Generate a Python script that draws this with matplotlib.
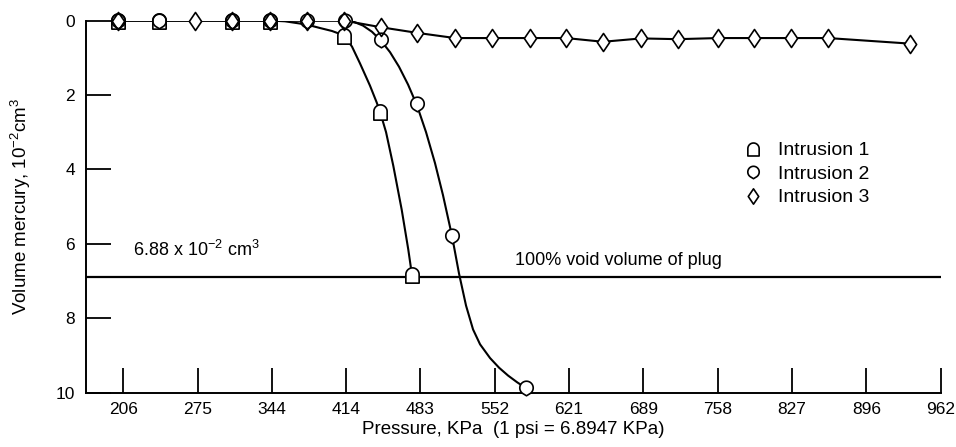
import numpy as np
import matplotlib
matplotlib.use("Agg")
import matplotlib.pyplot as plt
from matplotlib import font_manager
from matplotlib.path import Path
from matplotlib.lines import Line2D

plt.rcParams['font.family'] = ['Liberation Sans', 'DejaVu Sans']
plt.rcParams['mathtext.fontset'] = 'custom'
plt.rcParams['mathtext.rm'] = 'Liberation Sans'
plt.rcParams['mathtext.it'] = 'Liberation Sans:italic'
plt.rcParams['mathtext.bf'] = 'Liberation Sans:bold'
plt.rcParams['mathtext.default'] = 'regular'

# narrow face for numbers if it is there
names = {f.name for f in font_manager.fontManager.ttflist}
has_narrow = 'Liberation Sans Narrow' in names

# values: pressure in KPa, volume in 10^-2 cm^3
p1 = [201.9, 240.0, 307.7, 343.0, 411.7, 445.1, 474.8]
v1 = [0, 0, 0, 0, 0.42, 2.45, 6.85]
p2 = [201.9, 240.0, 307.7, 343.0, 377.3, 412.6, 446.0, 479.4, 511.9, 580.6]
v2 = [0, 0, 0, 0, 0, 0, 0.52, 2.25, 5.8, 9.88]
p3 = [201.9, 273.4, 307.7, 343.0, 377.3, 411.7, 446.0, 479.4, 514.7, 549.0,
      584.3, 617.7, 652.0, 687.3, 721.6, 758.7, 792.1, 826.5, 860.8, 936.9]
v3 = [0, 0, 0, 0, 0, 0, 0.18, 0.33, 0.47, 0.47,
      0.47, 0.47, 0.57, 0.48, 0.5, 0.47, 0.47, 0.47, 0.47, 0.62]

# hand-drawn fair curves
curve1_p = [201.9, 343.0, 356.9, 370.8, 380.1, 389.4, 400.5, 408.0, 413.5, 419.1,
            426.5, 435.8, 442.0, 445.1, 450.7, 457.4, 465.2, 471.3, 474.8]
curve1_v = [0, 0, 0.02, 0.08, 0.13, 0.2, 0.28, 0.36, 0.47, 0.7,
            1.15, 1.75, 2.2, 2.45, 3.0, 3.9, 5.08, 6.15, 6.85]
curve2_p = [201.9, 412.6, 420.9, 429.3, 437.6, 446.0, 454.4, 462.7, 471.1, 479.4,
            487.8, 496.1, 503.5, 511.9, 518.4, 524.9, 531.4, 537.9, 547.2, 555.6,
            563.9, 572.3, 580.6]
curve2_v = [0, 0, 0.035, 0.135, 0.3, 0.54, 0.85, 1.24, 1.72, 2.28,
            3.0, 3.83, 4.69, 5.79, 6.8, 7.66, 8.3, 8.7, 9.07, 9.33,
            9.54, 9.72, 9.88]

void_volume = 6.88
psi_ticks = [30, 40, 50, 60, 70, 80, 90, 100, 110, 120, 130, 140]
x_labels = ['206', '275', '344', '414', '483', '552', '621', '689', '758', '827', '896', '962']
y_ticks = [0, 2, 4, 6, 8, 10]

# marker shapes
t = np.linspace(0, np.pi, 25)
arch_v = [(-0.87, -1.0), (0.87, -1.0), (0.87, 0.13)]
arch_v += [(0.87 * np.cos(a), 0.13 + 0.87 * np.sin(a)) for a in t]
arch_v += [(-0.87, -1.0)]
arch = Path(arch_v, closed=True)

b = np.arccos(0.92 / 1.08)
t2 = np.linspace(-np.pi / 2 + b, 3 * np.pi / 2 - b, 40)
pin_v = [(0.92 * np.cos(a), 0.08 + 0.92 * np.sin(a)) for a in t2]
pin_v += [(0.0, -1.0), pin_v[0]]
pin = Path(pin_v, closed=True)

diam = Path([(0, 1), (0.68, 0), (0, -1), (-0.68, 0), (0, 1)], closed=True)

fig = plt.figure(figsize=(9.56, 4.47), dpi=100)
ax = fig.add_axes([0.090, 0.1215, 0.894, 0.8325])

lw = 1.5
ax.plot(curve1_p, curve1_v, color='black', lw=lw, zorder=2)
ax.plot(curve2_p, curve2_v, color='black', lw=lw, zorder=2)
ax.plot(p3, v3, color='black', lw=lw, zorder=2)
ax.axhline(void_volume, color='black', lw=1.6, zorder=1)

series = [(p1, v1, arch, 11, 'Intrusion 1'),
          (p2, v2, pin, 10.5, 'Intrusion 2'),
          (p3, v3, diam, 13, 'Intrusion 3')]
handles = []
for p, v, mk, ms, lab in series:
    ax.plot(p, v, ls='none', marker=mk, ms=ms, mfc='white', mec='none',
            zorder=3, clip_on=False)
for p, v, mk, ms, lab in series:
    ax.plot(p, v, ls='none', marker=mk, ms=ms, mfc='none', mec='black',
            mew=1.2, zorder=4, clip_on=False)
    handles.append(Line2D([], [], ls='none', marker=mk, ms=ms * 0.85, mfc='white',
                          mec='black', mew=1.2, label=lab))

ax.set_xlim(25 * 6.8947, 140 * 6.8947)
ax.set_ylim(10, 0)
ax.set_xticks([p * 6.8947 for p in psi_ticks])
ax.set_xticklabels(x_labels)
ax.set_yticks(y_ticks)
ax.tick_params(direction='in', length=18, width=1.3, colors='black')
ax.tick_params(axis='x', pad=7)
ax.tick_params(axis='y', pad=8)
num_family = ['Liberation Sans Narrow', 'Liberation Sans'] if has_narrow else ['Liberation Sans']
num_size = 13.5 if has_narrow else 12.5
for lab in ax.get_xticklabels() + ax.get_yticklabels():
    lab.set_family(num_family)
    lab.set_fontsize(num_size)

for s in ['top', 'right']:
    ax.spines[s].set_visible(False)
for s in ['left', 'bottom']:
    ax.spines[s].set_linewidth(1.4)

ax.set_xlabel('Pressure, KPa  (1 psi = 6.8947 KPa)', fontsize=13.5)
ax.xaxis.set_label_coords(0.5, -0.075)
ax.set_ylabel('Volume mercury, 10$^{-2}$cm$^3$', fontsize=13.5)
ax.yaxis.set_label_coords(-0.062, 0.5)

ax.text(216, 6.33, '6.88 x 10$^{-2}$ cm$^3$', fontsize=13, va='baseline', ha='left')
if has_narrow:
    ax.text(570, 6.58, '100% void volume of plug', fontsize=15.5, va='baseline',
            ha='left', family=['Liberation Sans Narrow', 'Liberation Sans'])
else:
    ax.text(570, 6.58, '100% void volume of plug', fontsize=13, va='baseline', ha='left')

ax.legend(handles=handles, loc='upper left', bbox_to_anchor=(0.769, 0.674),
          frameon=False, fontsize=14, handlelength=1.0, handletextpad=0.8,
          labelspacing=0.3, borderpad=0, borderaxespad=0)

fig.savefig('out.png', dpi=100)
